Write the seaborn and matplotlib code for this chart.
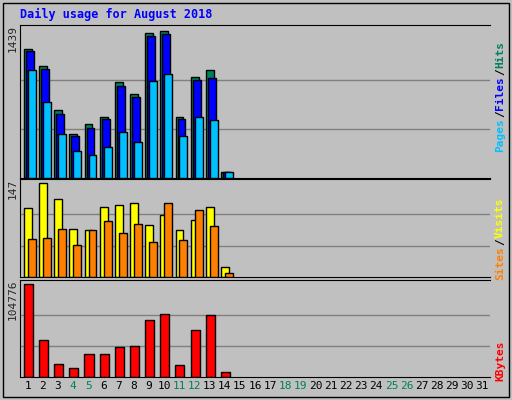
import matplotlib
matplotlib.use("Agg")
import matplotlib.pyplot as plt
import seaborn as sns
import numpy as np

days = list(range(1, 32))
hits = [1263, 1100, 667, 433, 531, 599, 941, 824, 1419, 1439, 599, 990, 1058, 62]
files = [1244, 1071, 628, 413, 492, 580, 902, 794, 1390, 1410, 580, 960, 980, 62]
pages = [1058, 746, 433, 267, 228, 306, 453, 355, 951, 1019, 413, 599, 570, 62]
visits = [107, 147, 121, 75, 73, 109, 113, 115, 81, 97, 73, 89, 109, 16]
sites = [59, 61, 75, 50, 73, 88, 69, 83, 54, 115, 58, 105, 80, 6]
kbytes = [104776, 41450, 14970, 10360, 25330, 25330, 33390, 34540, 64480, 70240, 13820, 52970, 69090, 5760]
weekend = [4, 5, 11, 12, 18, 19, 25, 26]

sns.set_style("white")
plt.rcParams['font.family'] = ['DejaVu Sans Mono', 'DejaVu Sans']

W, H = 512, 400
fig = plt.figure(figsize=(W/100, H/100), dpi=100, facecolor="#C0C0C0")

def rect(x0, y0, x1, y1):
    return [x0/W, 1 - y1/H, (x1-x0)/W, (y1-y0)/H]

fig.patches.append(plt.Rectangle((3/W, 3/H), 1-6/W, 1-6/H, transform=fig.transFigure,
                                 fill=False, edgecolor="black", lw=1))
fig.text(20/W, 1-14/H, "Daily usage for August 2018", color="#0000FF", fontsize=8.5,
         fontweight="bold", va="center", ha="left")

panels = [rect(20, 25, 490, 178), rect(20, 179, 490, 277), rect(20, 280, 490, 377)]
axs = [fig.add_axes(p) for p in panels]

def style(ax, maxv, label):
    ax.set_facecolor("#C0C0C0")
    ax.set_xlim(0.5, 31.5)
    top = maxv * 1.04
    ax.set_ylim(0, top)
    for f in (1/3, 2/3):
        ax.axhline(maxv * f, color="#808080", lw=1, zorder=0)
    ax.set_yticks([top])
    ax.set_yticklabels([label], rotation=90, va="top", fontsize=8)
    ax.tick_params(axis="y", length=0, pad=2)
    ax.set_xticks([])
    for s in ax.spines.values():
        s.set_color("black")
    ax.spines["right"].set_visible(False)

x = np.arange(1, len(hits) + 1)
bw = 0.52
a = axs[0]
a.bar(x - 0.24, hits, width=bw, color="#00805C", edgecolor="black", lw=1, align="edge", zorder=2)
a.bar(x - 0.11, files, width=bw, color="#0000FF", edgecolor="black", lw=1, align="edge", zorder=3)
a.bar(x + 0.02, pages, width=bw, color="#00C0FF", edgecolor="black", lw=1, align="edge", zorder=4)
style(a, 1439, "1439")

a = axs[1]
a.bar(x - 0.24, visits, width=bw, color="#FFFF00", edgecolor="black", lw=1, align="edge", zorder=2)
a.bar(x + 0.02, sites, width=bw, color="#FF8000", edgecolor="black", lw=1, align="edge", zorder=3)
style(a, 147, "147")

a = axs[2]
a.bar(x + 0.05, kbytes, width=0.6, color="#FF0000", edgecolor="black", lw=1, zorder=2)
style(a, 104776, "104776")
a.set_xticks(days)
a.set_xticklabels([str(d) for d in days], fontsize=8)
for t, d in zip(a.get_xticklabels(), days):
    t.set_color("#00805C" if d in weekend else "black")
a.tick_params(axis="x", length=0, pad=3)

def rlabel(parts, ycen):
    total = sum(len(p) for p, _ in parts)
    ch = 7.0
    y = ycen + total*ch/2
    for p, c in parts:
        fig.text(500/W, 1 - y/H, p, rotation=90, color=c, fontsize=8,
                 fontweight="bold", ha="center", va="bottom")
        y -= len(p)*ch

rlabel([("Pages", "#00C0FF"), ("/", "black"), ("Files", "#0000FF"), ("/", "black"), ("Hits", "#00805C")], 96)
rlabel([("Sites", "#FF8000"), ("/", "black"), ("Visits", "#FFFF00")], 238)
rlabel([("KBytes", "#FF0000")], 360)

fig.savefig("out.png", dpi=100, facecolor=fig.get_facecolor())
